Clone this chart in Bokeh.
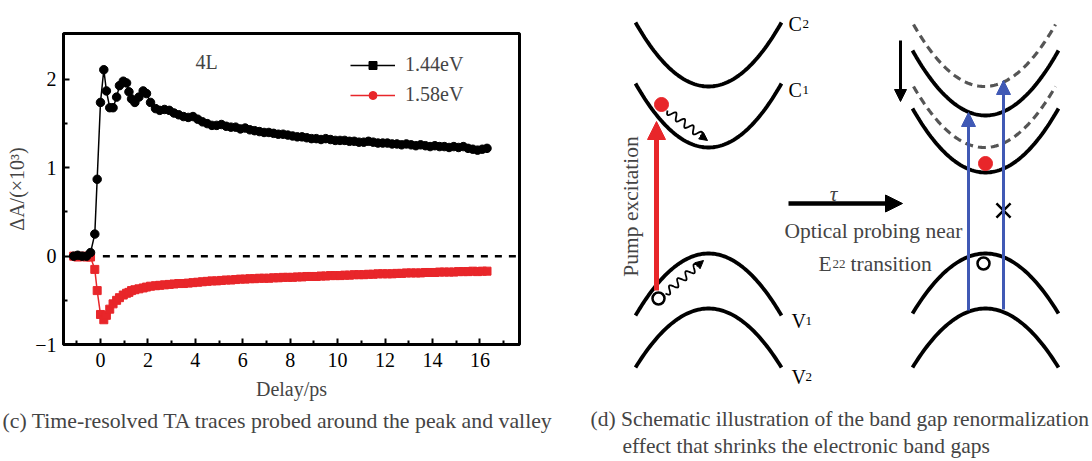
import numpy as np
from bokeh.plotting import figure
from bokeh.models import (Range1d, Label, Legend, LegendItem, Title, Arrow,
                          NormalHead, FixedTicker, Spacer)
from bokeh.layouts import row, column
from bokeh.embed import file_html
from bokeh.resources import INLINE
from bokeh.core.properties import value

SERIF = "Liberation Serif"
RED = "#e8262a"
BLUE = "#4059b5"

# ---------------- data (panel c) ----------------
delay = [-1.13, -0.96, -0.77, -0.59, -0.42, -0.24, -0.14, 0.0, 0.14, 0.25, 0.39, 0.53,
         0.68, 0.80, 0.96, 1.10, 1.20, 1.31, 1.45, 1.62, 1.80, 1.94, 2.11, 2.32, 2.5,
         2.7, 2.9, 3.1, 3.3, 3.5, 3.7, 3.9, 4.1, 4.3, 4.5, 4.7, 4.9, 5.1, 5.3, 5.5,
         5.7, 5.9, 6.1, 6.3, 6.5, 6.7, 6.9, 7.1, 7.3, 7.5, 7.7, 7.9, 8.1, 8.3, 8.5,
         8.7, 8.9, 9.1, 9.3, 9.5, 9.7, 9.9, 10.1, 10.3, 10.5, 10.7, 10.9, 11.1, 11.3,
         11.5, 11.7, 11.9, 12.1, 12.3, 12.5, 12.7, 12.9, 13.1, 13.3, 13.5, 13.7, 13.9,
         14.1, 14.3, 14.5, 14.7, 14.9, 15.1, 15.3, 15.5, 15.7, 15.9, 16.1, 16.3]
da_144 = [0.0, 0.01, 0.0, 0.0, 0.04, 0.25, 0.87, 1.74, 2.11, 1.87, 1.68, 1.68,
          1.80, 1.93, 1.98, 1.96, 1.86, 1.78, 1.74, 1.80, 1.87, 1.84, 1.74, 1.67, 1.65,
          1.66, 1.65, 1.62, 1.60, 1.58, 1.57, 1.58, 1.55, 1.52, 1.50, 1.48, 1.48, 1.49,
          1.47, 1.46, 1.46, 1.44, 1.45, 1.43, 1.42, 1.41, 1.40, 1.40, 1.39, 1.38, 1.38,
          1.37, 1.36, 1.35, 1.35, 1.34, 1.33, 1.33, 1.32, 1.33, 1.32, 1.31, 1.31, 1.31,
          1.30, 1.30, 1.29, 1.29, 1.30, 1.29, 1.28, 1.28, 1.28, 1.27, 1.27, 1.26, 1.27,
          1.26, 1.25, 1.26, 1.25, 1.24, 1.25, 1.24, 1.24, 1.23, 1.24, 1.23, 1.24, 1.22,
          1.21, 1.20, 1.21, 1.22]
da_158 = [0.0, -0.01, 0.0, -0.01, -0.01, -0.15, -0.39, -0.66, -0.72, -0.67, -0.60, -0.54,
          -0.50, -0.47, -0.44, -0.42, -0.41, -0.39, -0.38, -0.37, -0.36, -0.35, -0.34,
          -0.335, -0.33, -0.325, -0.32, -0.315, -0.31, -0.31, -0.305, -0.30, -0.295,
          -0.29, -0.285, -0.28, -0.28, -0.275, -0.27, -0.27, -0.265, -0.26, -0.26,
          -0.255, -0.255, -0.25, -0.25, -0.25, -0.245, -0.245, -0.24, -0.24, -0.24,
          -0.235, -0.235, -0.23, -0.23, -0.23, -0.225, -0.225, -0.22, -0.22, -0.22,
          -0.215, -0.215, -0.21, -0.21, -0.21, -0.205, -0.205, -0.20, -0.20, -0.20,
          -0.20, -0.195, -0.195, -0.19, -0.19, -0.19, -0.19, -0.185, -0.185, -0.185,
          -0.18, -0.18, -0.18, -0.18, -0.175, -0.175, -0.175, -0.17, -0.175, -0.17, -0.17]
series_labels = ["1.44eV", "1.58eV"]
sample_label = "4L"
x_major = [0, 2, 4, 6, 8, 10, 12, 14, 16]
x_minor = [-1, 1, 3, 5, 7, 9, 11, 13, 15, 17]
y_major = [-1, 0, 1, 2]
y_minor = [-0.5, 0.5, 1.5]
ref_line_x = [0.1, 17.67]
ref_line_y = [0, 0]

# ---------------- panel c ----------------
p = figure(width=560, height=461, x_range=Range1d(-1.56, 17.67), y_range=Range1d(-1.0, 2.52),
           output_backend="svg", toolbar_location=None,
           min_border_left=63, min_border_right=41, min_border_top=33, min_border_bottom=117)
p.grid.visible = False
p.outline_line_color = "black"
p.outline_line_width = 3
p.outline_line_alpha = 1
p.background_fill_color = "white"
p.border_fill_color = "white"

for ax in (p.xaxis[0], p.yaxis[0]):
    ax.axis_line_width = 3
    ax.major_tick_line_width = 2
    ax.minor_tick_line_width = 2
    ax.major_tick_in = 6
    ax.major_tick_out = 0
    ax.minor_tick_in = 4
    ax.minor_tick_out = 0
    ax.major_label_text_font = SERIF
    ax.major_label_text_font_size = "20px"
    ax.major_label_text_color = "black"
    ax.major_label_standoff = 8

p.yaxis.major_label_standoff = 7
p.xaxis.ticker = FixedTicker(ticks=x_major, minor_ticks=x_minor)
p.yaxis.ticker = FixedTicker(ticks=y_major, minor_ticks=y_minor)
p.yaxis.major_label_overrides = {-1: "\u22121"}
p.yaxis.axis_label = "\u0394A/(\u00d710\u00b3)"
p.yaxis.axis_label_text_font = SERIF
p.yaxis.axis_label_text_font_size = "20px"
p.yaxis.axis_label_text_font_style = "normal"
p.yaxis.axis_label_standoff = 4

p.line(ref_line_x, ref_line_y, line_color="black", line_width=2.5, line_dash="7 7")

p.line(delay, da_158, line_color=RED, line_width=1.5)
p.scatter(delay, da_158, marker="square", size=8, color=RED)
p.line(delay, da_144, line_color="black", line_width=1.5)
p.scatter(delay, da_144, marker="circle", size=8.5, color="black")

nan = [float("nan")]
l1 = p.line(nan, nan, line_color="black", line_width=1.5)
m1 = p.scatter(nan, nan, marker="square", size=8, color="black")
l2 = p.line(nan, nan, line_color=RED, line_width=1.5)
m2 = p.scatter(nan, nan, marker="circle", size=9, color=RED)
legend = Legend(items=[LegendItem(label=series_labels[0], renderers=[l1, m1]),
                       LegendItem(label=series_labels[1], renderers=[l2, m2])],
                location=(287, 238), border_line_color=None, background_fill_alpha=0,
                padding=0, margin=0, spacing=7, glyph_width=45, glyph_height=20,
                label_height=20, label_standoff=10, label_text_font=SERIF,
                label_text_font_size="20px")
p.add_layout(legend)

p.add_layout(Label(x=4.47, y=2.2, text=sample_label, text_font=SERIF, text_font_size="20px",
                   text_align="center", text_baseline="middle"))

p.add_layout(Title(text="Delay/ps", align="center", offset=-19, text_font=SERIF,
                   text_font_size="20px", text_font_style="normal", standoff=13), "below")
p.add_layout(Title(text="(c) Time-resolved TA traces probed around the peak and valley",
                   align="left", offset=-61, text_font=SERIF, text_font_size="21.8px",
                   text_font_style="normal", standoff=1), "below")

# ---------------- panel d (schematic) ----------------
band_cx = [708, 708, 708, 708, 985, 985, 985, 985]
band_vertex_y = [86, 147, 253, 308, 115, 172, 253, 308]
band_edge_y = [22, 83, 315, 367, 50, 108, 313, 367]
band_half_w = [73, 73, 73, 73, 73, 73, 73, 73]
dashed_cx = [984, 984]
dashed_vertex_y = [86, 147]
dashed_edge_y = [24, 86]
dashed_half_w = [71, 71]

s = np.linspace(-1, 1, 80)
def parabolas(cx, vy, ey, hw):
    xs = [list(c + h * s) for c, h in zip(cx, hw)]
    ys = [list(v + (e - v) * s ** 2) for v, e in zip(vy, ey)]
    return xs, ys

# the schematic canvas starts 1 px below the page top and is 459 px tall
q = figure(width=532, height=459, x_range=Range1d(560, 1092), y_range=Range1d(460, 1),
           output_backend="svg", toolbar_location=None, x_axis_location=None,
           y_axis_location=None, min_border=0, outline_line_color=None)
q.grid.visible = False
q.background_fill_color = "white"
q.border_fill_color = "white"

dxs, dys = parabolas(dashed_cx, dashed_vertex_y, dashed_edge_y, dashed_half_w)
q.multi_line(dxs, dys, line_color="#555555", line_width=3.2, line_dash="8 5")
bxs, bys = parabolas(band_cx, band_vertex_y, band_edge_y, band_half_w)
q.multi_line(bxs, bys, line_color="black", line_width=3.8)

# arrows: pump (red), tau (black), shift (black), probes (blue)
arrow_x0 = [656, 788, 900, 968, 1003]
arrow_y0 = [290, 203, 40, 310, 309]
arrow_x1 = [656, 902, 900, 968, 1003]
arrow_y1 = [121, 203, 101, 112, 80]
arrow_col = [RED, "black", "black", BLUE, BLUE]
arrow_w = [5, 4.5, 3, 3, 3]
arrow_head = [18, 17, 12, 14, 14]
for x0, y0, x1, y1, c, w, h in zip(arrow_x0, arrow_y0, arrow_x1, arrow_y1, arrow_col, arrow_w, arrow_head):
    q.add_layout(Arrow(x_start=x0, y_start=y0, x_end=x1, y_end=y1, line_color=c, line_width=w,
                       end=NormalHead(size=h, fill_color=c, line_color=c, line_width=1)))

# wavy relaxation arrows
wave_x0 = [667, 665]
wave_y0 = [110, 293]
wave_x1 = [707, 703]
wave_y1 = [140, 260]
t = np.linspace(0, 1, 120)
for x0, y0, x1, y1 in zip(wave_x0, wave_y0, wave_x1, wave_y1):
    dx, dy = x1 - x0, y1 - y0
    L = np.hypot(dx, dy)
    ux, uy = dx / L, dy / L
    nx, ny = -uy, ux
    base = t * (L - 7)
    amp = 3.5 * np.sin(2 * np.pi * 4 * t)
    wx = x0 + ux * base + nx * amp
    wy = y0 + uy * base + ny * amp
    q.line(list(wx), list(wy), line_color="black", line_width=1.8)
    q.add_layout(Arrow(x_start=x1 - ux * 9, y_start=y1 - uy * 9, x_end=x1, y_end=y1,
                       line_color="black", line_width=1.5,
                       end=NormalHead(size=8, fill_color="black", line_color="black", line_width=1)))

# carriers
electron_x = [661, 985]
electron_y = [104, 163]
hole_x = [658, 983]
hole_y = [298, 263]
q.scatter(electron_x, electron_y, marker="circle", size=14, color=RED)
q.scatter(hole_x, hole_y, marker="circle", size=12, fill_color="white", line_color="black", line_width=2.5)
cross_x = [1003]
cross_y = [210]
q.scatter(cross_x, cross_y, marker="x", size=20, line_color="black", line_width=2.5)

# band labels
lab_x = [788, 788, 791, 791]
lab_y = [23, 89, 320, 376]
lab_main = ["C", "C", "V", "V"]
lab_sub = ["2", "1", "1", "2"]
q.text(lab_x, lab_y, text=lab_main, text_font=value(SERIF), text_font_size="20px",
       text_baseline="alphabetic", text_align="left")
q.text([x + 14 for x in lab_x], lab_y, text=lab_sub, text_font=value(SERIF), text_font_size="13px",
       text_baseline="alphabetic", text_align="left")

def lbl(x, y, txt, size="21.5px", align="left", base="middle", angle=0, style="normal"):
    q.add_layout(Label(x=x, y=y, text=txt, text_font=SERIF, text_font_size=size,
                       text_align=align, text_baseline=base, angle=angle, text_font_style=style))

lbl(833, 193, "\u03c4", align="center", style="italic")
lbl(873, 230, "Optical probing near", align="center")
lbl(818, 263, "E", base="alphabetic")
lbl(832, 263, "22", size="13px", base="alphabetic")
lbl(850, 263, "transition", base="alphabetic")
lbl(630, 206, "Pump excitation", align="center", angle=np.pi / 2)
lbl(590, 418, "(d) Schematic illustration of the band gap renormalization")
lbl(622, 445, "effect that shrinks the electronic band gaps")

layout = row(p, column(Spacer(width=532, height=1), q))
open("out.html", "w").write(file_html(layout, INLINE))
